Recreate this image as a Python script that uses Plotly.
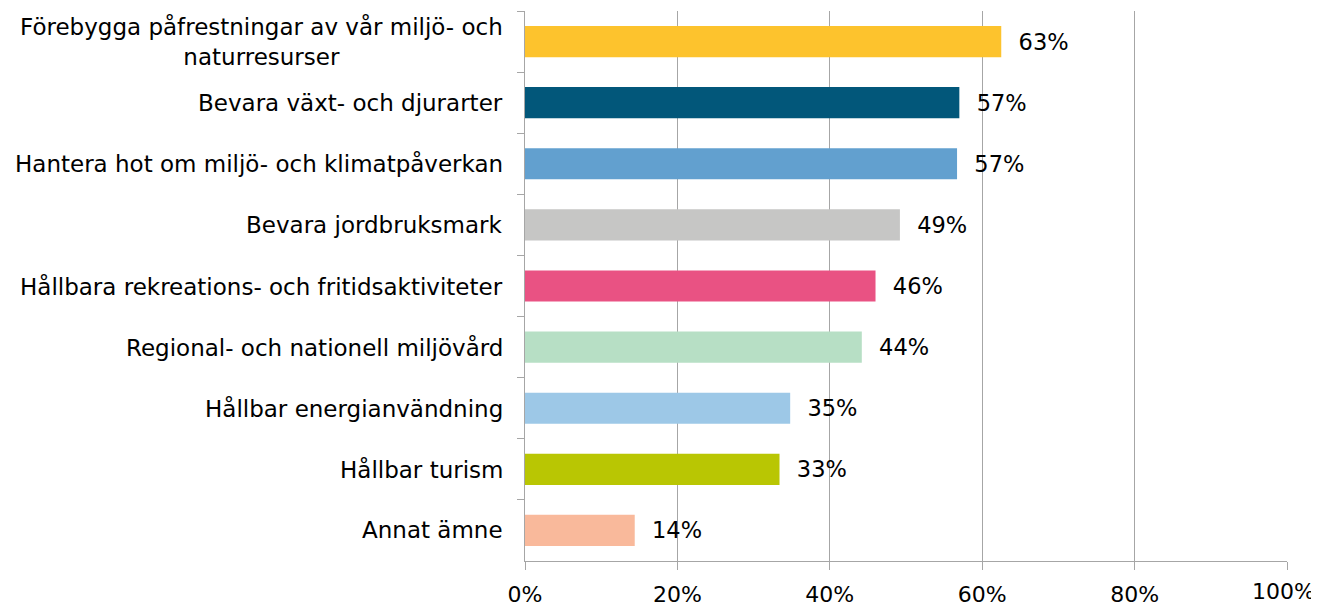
import plotly.graph_objects as go

categories = [
    "Förebygga påfrestningar av vår miljö- och<br>naturresurser",
    "Bevara växt- och djurarter",
    "Hantera hot om miljö- och klimatpåverkan",
    "Bevara jordbruksmark",
    "Hållbara rekreations- och fritidsaktiviteter",
    "Regional- och nationell miljövård",
    "Hållbar energianvändning",
    "Hållbar turism",
    "Annat ämne",
]
values = [62.5, 57.0, 56.7, 49.2, 46.0, 44.2, 34.8, 33.4, 14.4]
value_labels = ["63%", "57%", "57%", "49%", "46%", "44%", "35%", "33%", "14%"]
colors = ["#FDC32D", "#02577A", "#62A0CF", "#C6C6C5", "#E95283",
          "#B7DFC5", "#9DC8E7", "#B9C603", "#F9B99B"]
x_ticks = [0, 20, 40, 60, 80, 100]
x_tick_labels = ["0%", "20%", "40%", "60%", "80%", "100%"]

FONT = "DejaVu Sans"

fig = go.Figure()
fig.add_trace(go.Bar(
    y=categories,
    x=values,
    orientation="h",
    marker=dict(color=colors, line=dict(width=0)),
    text=["\u00a0\u00a0" + t for t in value_labels],
    textposition="outside",
    textfont=dict(family=FONT, size=22.5, color="#000000"),
    cliponaxis=False,
    hoverinfo="x+y",
))

for cat in categories:
    fig.add_annotation(
        x=0, xref="paper", y=cat, yref="y",
        text=cat, showarrow=False, xanchor="right", yanchor="middle",
        align="center", xshift=-20,
        font=dict(family=FONT, size=23, color="#000000"),
    )

# last x tick label drawn as an annotation so it stays inside the page edge
fig.add_annotation(
    x=x_ticks[-1], xref="x", y=0, yref="paper",
    text=x_tick_labels[-1], showarrow=False,
    xanchor="right", yanchor="top", xshift=30, yshift=-16,
    font=dict(family=FONT, size=22, color="#000000"),
)

fig.update_layout(
    width=1311, height=600,
    margin=dict(l=517, r=32, t=3, b=47, autoexpand=False),
    paper_bgcolor="white", plot_bgcolor="white",
    showlegend=False,
    bargap=0.49,
    font=dict(family=FONT, size=22.5, color="#000000"),
    xaxis=dict(
        range=[0, 100],
        automargin=False,
        tickvals=x_ticks, ticktext=x_tick_labels[:-1] + [""],
        ticklabelstandoff=6,
        showgrid=True, gridcolor="#A6A6A6", gridwidth=1,
        showline=True, linecolor="#A6A6A6", linewidth=1,
        ticks="outside", ticklen=8, tickcolor="#A6A6A6",
        zeroline=False,
        tickfont=dict(family=FONT, size=22, color="#000000"),
    ),
    yaxis=dict(
        autorange="reversed",
        automargin=False,
        showticklabels=False,
        showline=True, linecolor="#A6A6A6", linewidth=1,
        ticks="outside", ticklen=7, tickcolor="#A6A6A6",
        tickson="boundaries",
        showgrid=False, zeroline=False,
    ),
)

fig.write_html("out.html")
